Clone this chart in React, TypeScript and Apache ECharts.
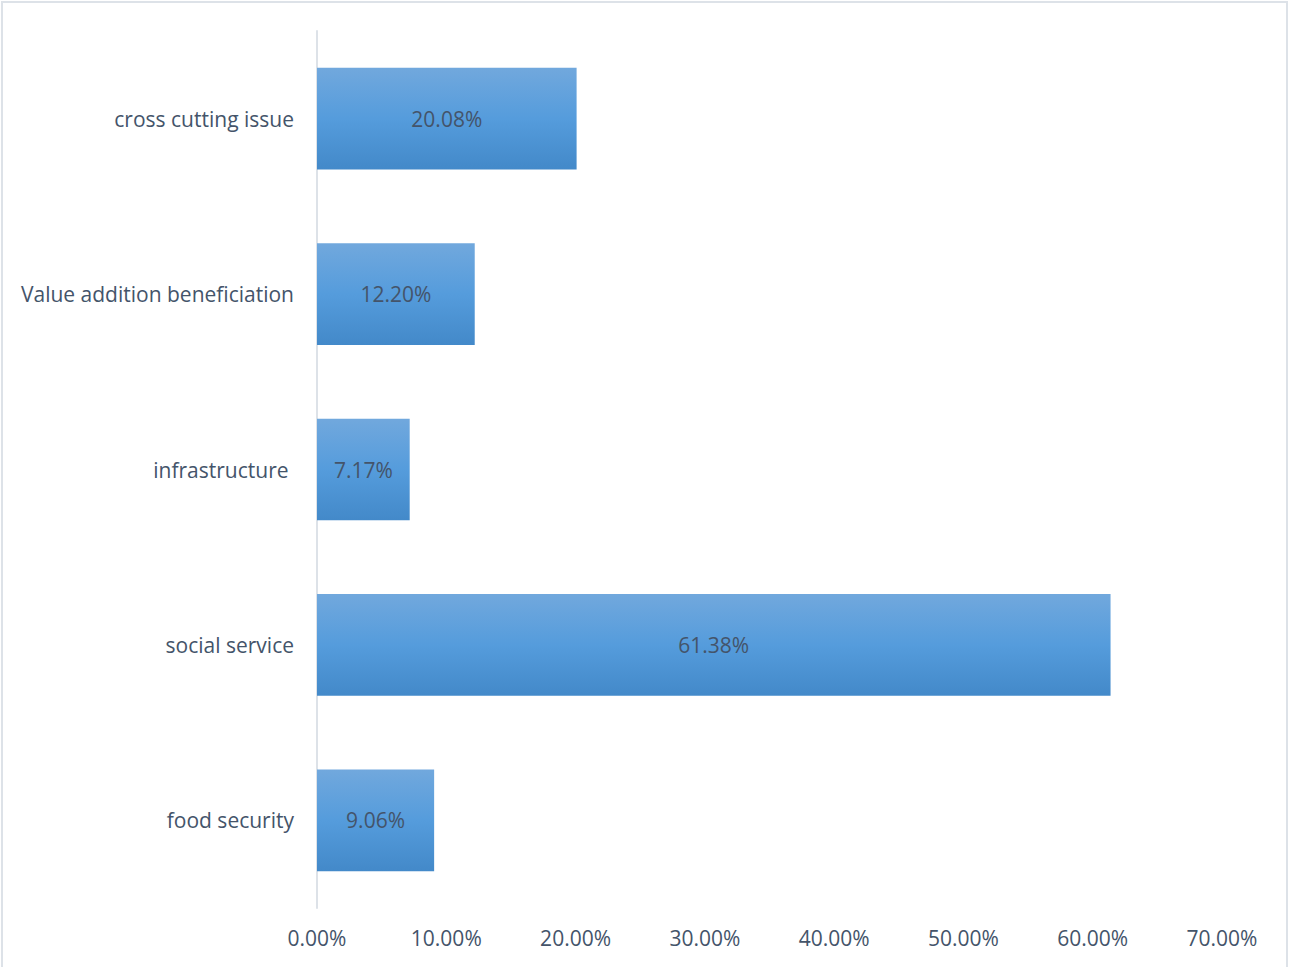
import React, { useEffect, useRef } from "react";
import * as echarts from "echarts";

const categories = [
  "cross cutting issue",
  "Value addition beneficiation",
  "infrastructure ",
  "social service",
  "food security",
];
const values = [20.08, 12.2, 7.17, 61.38, 9.06];
const tickMin = 0;
const tickMax = 70;
const tickStep = 10;

export default function App() {
  const ref = useRef<HTMLDivElement>(null);
  useEffect(() => {
    if (!ref.current) return;
    const chart = echarts.init(ref.current, null, { renderer: "svg" });
    const font = "'Open Sans', 'Noto Sans', sans-serif";
    chart.setOption({
      animation: false,
      backgroundColor: "#ffffff",
      textStyle: { fontFamily: font },
      graphic: [
        {
          type: "rect",
          shape: { x: 2, y: 2, width: 1285, height: 970 },
          style: { fill: "none", stroke: "#dde2e8", lineWidth: 2 },
          silent: true,
        },
      ],
      grid: { left: 317, top: 31, width: 905, height: 877, containLabel: false },
      xAxis: {
        type: "value",
        min: tickMin,
        max: tickMax,
        interval: tickStep,
        axisLine: { show: false },
        axisTick: { show: false },
        splitLine: { show: false },
        axisLabel: {
          margin: 19,
          color: "#44546A",
          fontSize: 21,
          fontFamily: font,
          formatter: (v: number) => v.toFixed(2) + "%",
        },
      },
      yAxis: {
        type: "category",
        data: categories,
        inverse: true,
        axisLine: { show: true, lineStyle: { color: "#dde2e8", width: 2 } },
        axisTick: { show: false },
        axisLabel: {
          margin: 23,
          color: "#44546A",
          fontSize: 21,
          fontFamily: font,
        },
      },
      series: [
        {
          type: "bar",
          data: values,
          barWidth: "58%",
          itemStyle: {
            color: new echarts.graphic.LinearGradient(0, 0, 0, 1, [
              { offset: 0, color: "#71a8dd" },
              { offset: 0.5, color: "#559cdc" },
              { offset: 1, color: "#4389c9" },
            ]),
          },
          label: {
            show: true,
            position: "inside",
            color: "#44546A",
            fontSize: 21,
            fontFamily: font,
            formatter: (p: any) => p.value.toFixed(2) + "%",
          },
        },
      ],
    });
    return () => chart.dispose();
  }, []);
  return (
    <div
      ref={ref}
      style={{ position: "absolute", left: 0, top: 0, width: 1289, height: 967 }}
    />
  );
}
